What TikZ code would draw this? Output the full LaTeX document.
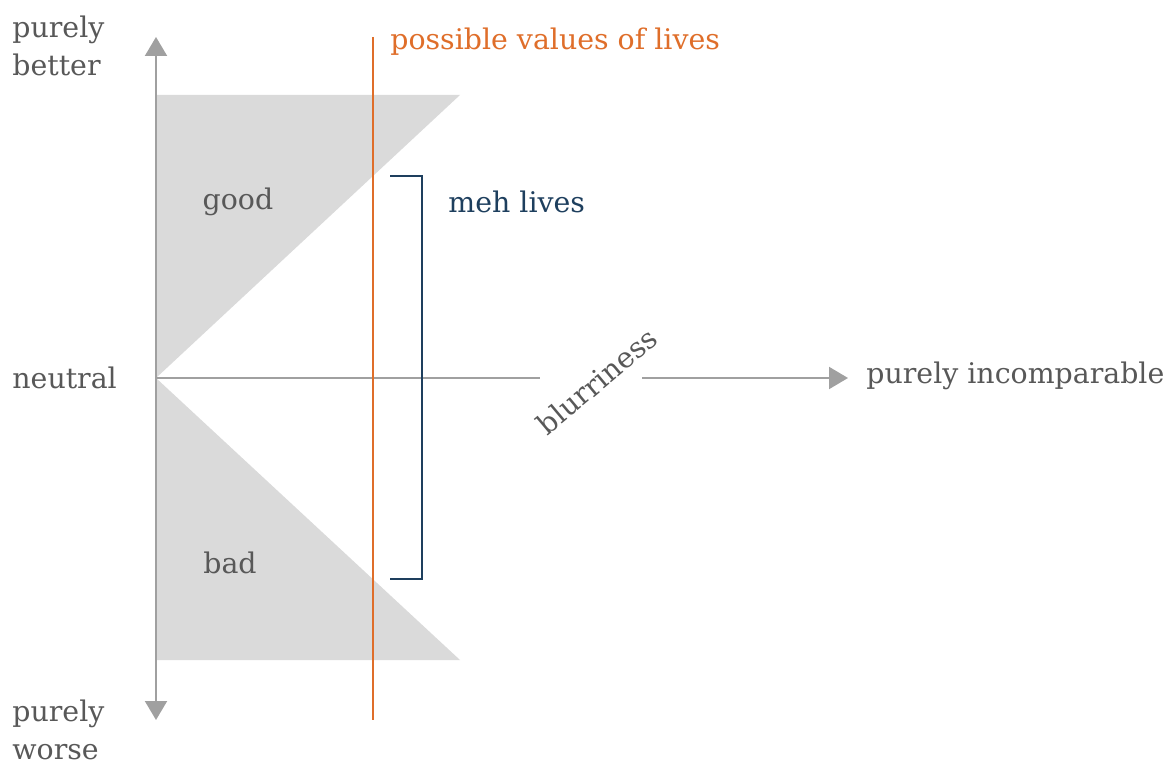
\documentclass[tikz,border=0pt]{standalone}
\usepackage{fontspec}
\setmainfont{DejaVu Serif}
\usepackage{tikz}
\usetikzlibrary{arrows.meta,positioning}
\definecolor{axisgray}{HTML}{A0A0A0}
\definecolor{fillgray}{HTML}{DADADA}
\definecolor{textgray}{HTML}{585858}
\definecolor{lifeorange}{HTML}{DF6E2A}
\definecolor{mehblue}{HTML}{1E3F5E}

\begin{document}
\begin{tikzpicture}[x=0.5pt,y=-0.5pt,font=\fontsize{14.2}{19}\selectfont]
    \tikzstyle{axis}=[draw=axisgray,line width=1pt,-{Triangle[length=9.5pt,width=11pt]}]
    \tikzstyle{label}=[text=textgray,inner sep=0pt]
    \tikzstyle{cone}=[fill=fillgray]
    \useasboundingbox (0,0) rectangle (1173,764);

    % Draw the shaded cones
    \fill[cone] (156,95) -- (460,95) -- (156,378) -- cycle;
    \fill[cone] (156,378) -- (460,660) -- (156,660) -- cycle;

    % Axis end points
    \coordinate (O) at (156,378);
    \coordinate (top) at (156,37);
    \coordinate (bottom) at (156,720);
    \coordinate (gapL) at (540,378);
    \coordinate (gapR) at (642,378);
    \coordinate (right) at (848,378);

    % Draw the axes
    \draw[axis] (O) -- (top);
    \draw[axis] (O) -- (bottom);
    \draw[draw=axisgray,line width=1pt] (O) -- (gapL);
    \draw[axis] (gapR) -- (right);

    % Annotate the axes
    \node[label,anchor=west,align=left] (better) at (12,46) {purely\\better};
    \node[label,anchor=west,align=left] (worse) at (12,730) {purely\\worse};
    \node[label,anchor=west] (neutral) at (12,378) {neutral};
    \node[label,anchor=west] (incomp) at (866,376) {purely incomparable};
    \node[label,rotate=40] (blur) at (597,381) {blurriness};
    \node[label] (good) at (238,202) {good};
    \node[label] (bad) at (230,563) {bad};

    % Draw the possible values of lives
    \coordinate (lifeT) at (373,37);
    \coordinate (lifeB) at (373,720);
    \draw[lifeorange,line width=1pt] (lifeT) -- (lifeB);
    \node[text=lifeorange,anchor=west,inner sep=0pt] (lives) at (390,42) {possible values of lives};

    % Bracket for meh lives
    \coordinate (bT) at (390,176);
    \coordinate (bB) at (390,579);
    \draw[mehblue,line width=1pt] (bT) -| (422,579) -- (bB);
    \node[text=mehblue,anchor=west,inner sep=0pt] (meh) at (448,202) {meh lives};
\end{tikzpicture}
\end{document}
